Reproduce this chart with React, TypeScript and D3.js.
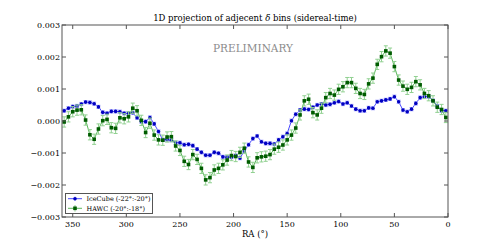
import * as d3 from 'd3';

// RA bin centres (deg), 4 degree bins
const raBins = [
  358, 354, 350, 346, 342, 338, 334, 330, 326, 322, 318, 314, 310, 306, 302, 298, 294, 290,
  286, 282, 278, 274, 270, 266, 262, 258, 254, 250, 246, 242, 238, 234, 230, 226, 222, 218,
  214, 210, 206, 202, 198, 194, 190, 186, 182, 178, 174, 170, 166, 162, 158, 154, 150, 146,
  142, 138, 134, 130, 126, 122, 118, 114, 110, 106, 102, 98, 94, 90, 86, 82, 78, 74,
  70, 66, 62, 58, 54, 50, 46, 42, 38, 34, 30, 26, 22, 18, 14, 10, 6, 2,
];

const iceCube = [
  0.00032, 0.0004, 0.00045, 0.00047, 0.00053, 0.00059, 0.00058, 0.00054, 0.00044, 0.00027, 0.00024, 0.0003,
  0.0003, 0.00029, 0.00024, 0.00024, 0.00026, 0.0001, -0.00002, -0.00002, 0.00011, -0.00009, -0.00033, -0.00059,
  -0.00058, -0.0006, -0.00068, -0.00068, -0.00074, -0.00073, -0.00077, -0.00088, -0.00098, -0.00107, -0.00107, -0.00098,
  -0.00101, -0.00112, -0.00113, -0.00113, -0.00108, -0.00116, -0.00094, -0.00074, -0.00055, -0.00047, -0.00065, -0.0007,
  -0.0007, -0.00072, -0.00059, -0.00049, -0.00039, 0.00001, 0.00021, 0.00034, 0.00037, 0.00036, 0.00043, 0.0005,
  0.00053, 0.0005, 0.00052, 0.00057, 0.00061, 0.00053, 0.00057, 0.00047, 0.00037, 0.00032, 0.00032, 0.00041,
  0.0004, 0.0006, 0.00063, 0.00066, 0.00069, 0.00076, 0.0006, 0.00034, 0.00029, 0.00037, 0.00055, 0.00073,
  0.00076, 0.00076, 0.00064, 0.00047, 0.00032, 0.00032,
];

const hawc = [
  -0.00003, 0.00013, 0.00029, 0.00034, 0.00035, 0.00003, -0.00043, -0.00057, -0.00025, 0.00001, 0.00005, -0.00021,
  -0.00023, 0.0001, 0.00007, 0.00013, 0.0004, 0.00032, 0.00002, -0.00036, -0.00007, -0.00044, -0.00059, -0.0006,
  -0.0005, -0.00049, -0.00078, -0.00092, -0.00126, -0.00136, -0.00105, -0.0012, -0.00148, -0.00184, -0.00177, -0.00153,
  -0.00148, -0.00137, -0.00122, -0.00108, -0.00111, -0.00098, -0.00085, -0.00128, -0.00145, -0.00115, -0.00112, -0.0011,
  -0.00105, -0.00088, -0.00082, -0.00075, -0.00059, -0.00044, -0.00022, 0.00019, 0.00063, 0.00068, 0.00026, 0.00019,
  0.0004, 0.00073, 0.00086, 0.00081, 0.00099, 0.00107, 0.0012, 0.0012, 0.00102, 0.00086, 0.00083, 0.00116,
  0.00134, 0.00177, 0.00201, 0.00219, 0.00212, 0.0017, 0.00128, 0.00109, 0.00099, 0.00105, 0.00123, 0.00113,
  0.00086, 0.00079, 0.00063, 0.00043, 0.00036, 0.00011,
];

const iceCubeErr = 0.00005;
const hawcErr = 0.00016;

const xTicks = [350, 300, 250, 200, 150, 100, 50, 0];
const yTicks = [0.003, 0.002, 0.001, 0, -0.001, -0.002, -0.003];

const W = 498;
const H = 249;
const M = { left: 62, right: 448, top: 25, bottom: 217 };
const FONT = '"DejaVu Serif", serif';

const BLUE_LINE = '#4a4aff';
const BLUE_ERR = '#a0a0ff';
const BLUE_MK = '#0000c0';
const GREEN_LINE = '#5cb85c';
const GREEN_ERR = '#90d090';
const GREEN_MK = '#005c00';

export default function App() {
  const x = d3.scaleLinear().domain([360, 0]).range([M.left, M.right]);
  const y = d3.scaleLinear().domain([-0.003, 0.003]).range([M.bottom, M.top]);
  const fmt = d3.format('.3f');

  const line = d3.line<number>().x((_, i) => x(raBins[i])).y(d => y(d));

  const errBars = (vals: number[], err: number, color: string, cap: number) =>
    vals.map((v, i) => {
      const cx = x(raBins[i]);
      return (
        <g key={i} stroke={color} strokeWidth={1}>
          <line x1={cx} x2={cx} y1={y(v - err)} y2={y(v + err)} />
          <line x1={cx - cap} x2={cx + cap} y1={y(v - err)} y2={y(v - err)} />
          <line x1={cx - cap} x2={cx + cap} y1={y(v + err)} y2={y(v + err)} />
        </g>
      );
    });

  return (
    <svg
      width={W}
      height={H}
      style={{ position: 'absolute', left: 0, top: 0, background: '#fff' }}
      fontFamily={FONT}
    >
      <text x={(M.left + M.right) / 2} y={21} textAnchor="middle" fontSize={8.5} fill="#000">
        1D projection of adjecent <tspan fontStyle="italic">δ</tspan> bins (sidereal-time)
      </text>

      <defs>
        <clipPath id="plot">
          <rect x={M.left} y={M.top} width={M.right - M.left} height={M.bottom - M.top} />
        </clipPath>
      </defs>

      <text x={253} y={52} textAnchor="middle" fontSize={10.5} fill="#8c8c8c">
        PRELIMINARY
      </text>

      <g clipPath="url(#plot)">
        {/* IceCube */}
        <path d={line(iceCube) ?? ''} fill="none" stroke={BLUE_LINE} strokeWidth={1} />
        {errBars(iceCube, iceCubeErr, BLUE_ERR, 2)}
        {iceCube.map((v, i) => (
          <circle key={i} cx={x(raBins[i])} cy={y(v)} r={1.8} fill={BLUE_MK} />
        ))}

        {/* HAWC */}
        <path d={line(hawc) ?? ''} fill="none" stroke={GREEN_LINE} strokeWidth={1} />
        {errBars(hawc, hawcErr, GREEN_ERR, 2)}
        {hawc.map((v, i) => (
          <rect key={i} x={x(raBins[i]) - 1.8} y={y(v) - 1.8} width={3.6} height={3.6} fill={GREEN_MK} />
        ))}
      </g>

      {/* frame + inward ticks */}
      <rect
        x={M.left}
        y={M.top}
        width={M.right - M.left}
        height={M.bottom - M.top}
        fill="none"
        stroke="#555"
        strokeWidth={1}
      />
      {xTicks.map(t => (
        <g key={t} stroke="#555">
          <line x1={x(t)} x2={x(t)} y1={M.bottom} y2={M.bottom - 4} />
          <line x1={x(t)} x2={x(t)} y1={M.top} y2={M.top + 4} />
        </g>
      ))}
      {yTicks.map(t => (
        <g key={t} stroke="#555">
          <line x1={M.left} x2={M.left + 4} y1={y(t)} y2={y(t)} />
          <line x1={M.right} x2={M.right - 4} y1={y(t)} y2={y(t)} />
        </g>
      ))}

      {xTicks.map(t => (
        <text key={t} x={x(t)} y={226.5} textAnchor="middle" fontSize={8} fill="#000">
          {t}
        </text>
      ))}
      {yTicks.map(t => (
        <text key={t} x={M.left - 2} y={y(t) + 3} textAnchor="end" fontSize={8} fill="#000">
          {fmt(t).replace('-', '\u2212')}
        </text>
      ))}

      <text x={(M.left + M.right) / 2} y={237} textAnchor="middle" fontSize={8.5} fill="#000">
        RA (°)
      </text>

      {/* legend */}
      <g>
        <rect x={65.5} y={193.5} width={87} height={20} fill="#fff" stroke="#555" strokeWidth={1} />
        <line x1={68} x2={82} y1={198.7} y2={198.7} stroke={BLUE_LINE} />
        <line x1={75} x2={75} y1={196.5} y2={201} stroke={BLUE_ERR} />
        <circle cx={75} cy={198.7} r={1.8} fill={BLUE_MK} />
        <text x={86.5} y={201} fontSize={6.5} fill="#000">
          IceCube (-22°:-20°)
        </text>
        <line x1={68} x2={82} y1={208.3} y2={208.3} stroke={GREEN_LINE} />
        <line x1={75} x2={75} y1={205} y2={211.6} stroke={GREEN_ERR} />
        <rect x={73.2} y={206.5} width={3.6} height={3.6} fill={GREEN_MK} />
        <text x={86.5} y={210.6} fontSize={6.5} fill="#000">
          HAWC (-20°:-18°)
        </text>
      </g>
    </svg>
  );
}
